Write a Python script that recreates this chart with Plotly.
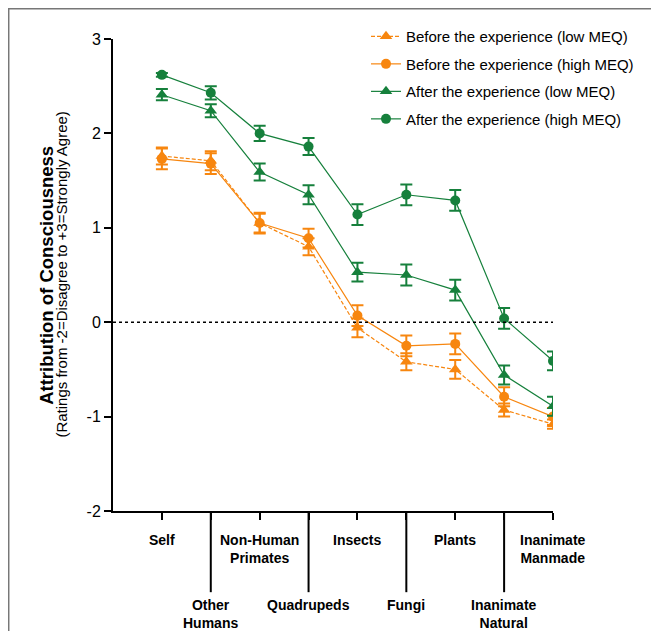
import plotly.graph_objects as go

categories = ["Self", "Other<br>Humans", "Non-Human<br>Primates", "Quadrupeds", "Insects",
              "Fungi", "Plants", "Inanimate<br>Natural", "Inanimate<br>Manmade"]

y_tick_vals = [-2, -1, 0, 1, 2, 3]
y_tick_text = ["-2", "-1", "0", "1", "2", "3"]

before_low = [1.76, 1.71, 1.05, 0.80, -0.06, -0.42, -0.50, -0.93, -1.08]
before_low_err = [0.09, 0.10, 0.10, 0.09, 0.10, 0.09, 0.10, 0.07, 0.05]
before_high = [1.73, 1.68, 1.05, 0.89, 0.07, -0.25, -0.23, -0.79, -1.00]
before_high_err = [0.11, 0.11, 0.11, 0.10, 0.11, 0.11, 0.11, 0.10, 0.09]
after_low = [2.41, 2.24, 1.59, 1.35, 0.53, 0.50, 0.34, -0.56, -0.89]
after_low_err = [0.06, 0.07, 0.09, 0.10, 0.10, 0.11, 0.11, 0.10, 0.10]
after_high = [2.62, 2.43, 2.00, 1.86, 1.14, 1.35, 1.29, 0.04, -0.41]
after_high_err = [0.02, 0.07, 0.08, 0.09, 0.11, 0.11, 0.11, 0.11, 0.10]

series_names = ["Before the experience (low MEQ)", "Before the experience (high MEQ)",
                "After the experience (low MEQ)", "After the experience (high MEQ)"]

ORANGE = "#F7860F"
GREEN = "#16803C"
FONT = "Liberation Sans, Arial"

xs = list(range(len(categories)))
fig = go.Figure()

specs = [
    (before_low, before_low_err, ORANGE, "triangle-up", "dash"),
    (before_high, before_high_err, ORANGE, "circle", "solid"),
    (after_low, after_low_err, GREEN, "triangle-up", "solid"),
    (after_high, after_high_err, GREEN, "circle", "solid"),
]
for i, (vals, errs, col, sym, dash) in enumerate(specs):
    fig.add_trace(go.Scatter(
        x=xs, y=vals, name=series_names[i], legendgroup=f"g{i}",
        mode="lines+markers",
        line=dict(color=col, width=1.2, dash="4px,2px" if dash == "dash" else "solid"),
        marker=dict(symbol=sym, size=10 if sym == "circle" else 11, color=col),
        error_y=dict(type="data", array=errs, visible=True, color=col, thickness=2, width=6),
    ))

# dotted zero line
fig.add_shape(type="line", xref="x", yref="y", x0=-1, x1=8, y0=0, y1=0,
              line=dict(color="black", width=1.5, dash="dot"))

# long ticks for staggered labels
for i in xs:
    if i % 2 == 1:
        fig.add_shape(type="line", xref="x", yref="paper", x0=i, x1=i, y0=0, y1=-0.172,
                      line=dict(color="black", width=2))

# category labels
for i, c in enumerate(categories):
    fig.add_annotation(x=i, xref="x", yref="paper",
                       y=-0.040 if i % 2 == 0 else -0.178, yanchor="top",
                       text=f"<b>{c}</b>", showarrow=False,
                       font=dict(family=FONT, size=14, color="black"),
                       align="center")

# y-axis titles
fig.add_annotation(xref="paper", yref="paper", x=-0.181, y=0.5, textangle=-90,
                   text="<b>Attribution of Consciousness</b>", showarrow=False,
                   font=dict(family=FONT, size=18.5, color="black"))
fig.add_annotation(xref="paper", yref="paper", x=-0.143, y=0.5, textangle=-90,
                   text="(Ratings from -2=Disagree to +3=Strongly Agree)", showarrow=False,
                   font=dict(family=FONT, size=15, color="black"))

# outer frame
fig.add_shape(type="rect", xref="paper", yref="paper", x0=-0.237, x1=1.5, y0=-0.5, y1=1.064,
              line=dict(color="#777777", width=1.5), layer="below")

fig.update_layout(
    width=651, height=623,
    margin=dict(l=105, r=106, t=31, b=120),
    plot_bgcolor="white", paper_bgcolor="white",
    font=dict(family=FONT, size=15, color="black"),
    showlegend=True,
    legend=dict(x=0.575, y=1.04, xanchor="left", yanchor="top",
                font=dict(size=15), tracegroupgap=5, bgcolor="rgba(0,0,0,0)",
                itemwidth=30),
    xaxis=dict(range=[-1, 8], tickvals=xs, ticktext=[""] * len(xs), ticks="outside",
               ticklen=7, tickwidth=2, tickcolor="black", showline=True, linewidth=2,
               linecolor="black", showgrid=False, zeroline=False),
    yaxis=dict(range=[-2, 3], tickvals=y_tick_vals, ticktext=y_tick_text, ticks="outside",
               ticklen=7, tickwidth=2, tickcolor="black", showline=True, linewidth=2,
               linecolor="black", showgrid=False, zeroline=False, tickfont=dict(size=16)),
)

fig.write_html("out.html")
